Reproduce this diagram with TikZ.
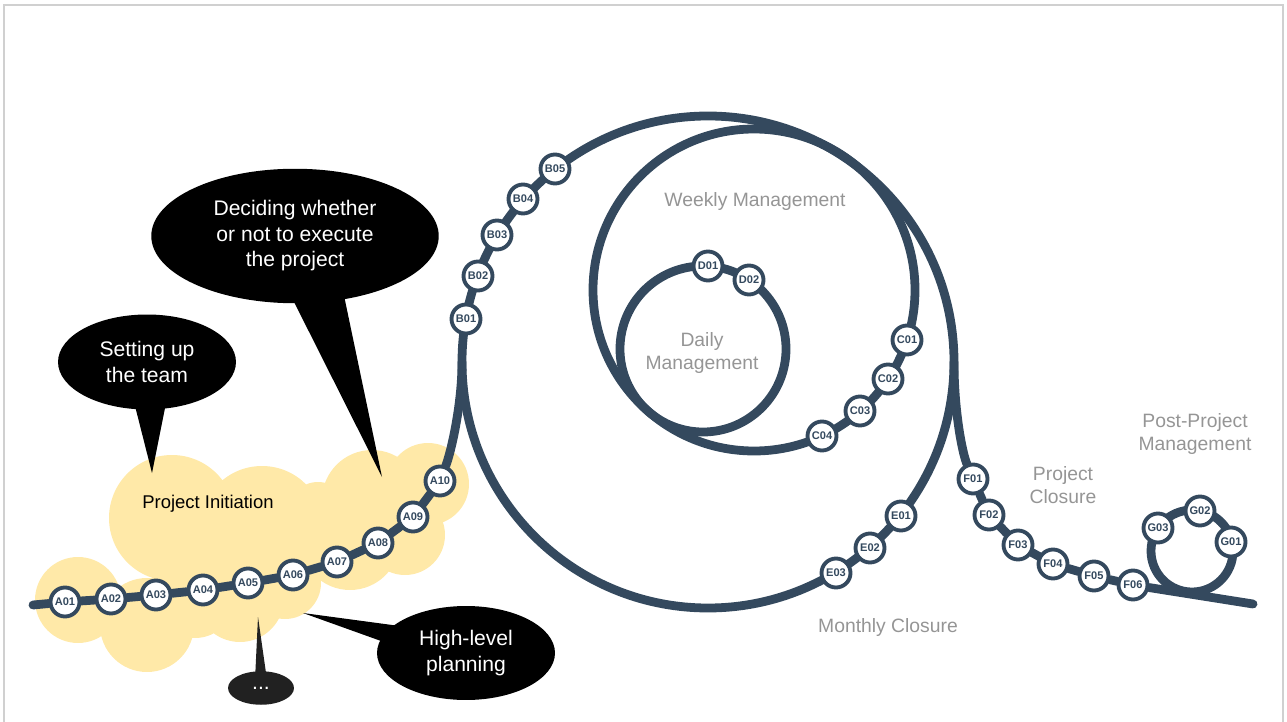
\documentclass[tikz,border=0pt]{standalone}
\usepackage{fontspec}
\setmainfont{Liberation Sans}
\usetikzlibrary{shapes.geometric}
\usepackage{xcolor}

\definecolor{track}{HTML}{34495E}
\definecolor{cloud}{HTML}{FFE9A8}
\definecolor{phase}{HTML}{959595}
\definecolor{frame}{HTML}{D0D0D0}

\pgfdeclarelayer{cloudlayer}
\pgfdeclarelayer{tracklayer}
\pgfsetlayers{cloudlayer,tracklayer,main}

\begin{document}
\begin{tikzpicture}[
x=0.02cm, y=-0.02cm,
stop/.style={circle, draw=track, line width=2.2pt, fill=white, inner sep=0pt,
  minimum size=0.58cm, text=track, font=\fontsize{6.3}{6.3}\selectfont\bfseries},
rail/.style={draw=track, line width=5pt, line cap=round},
phase/.style={text=phase, align=center, font=\fontsize{11}{13}\selectfont},
bubble/.style={ellipse, fill=black, text=white, inner sep=0pt, align=center,
  font=\fontsize{12}{14.5}\selectfont},
]
\useasboundingbox (0,0) rectangle (1287,722);
\draw[frame, line width=0.6pt] (4,722) -- (4,5) -- (1283,5) -- (1283,722);

%% project initiation
% cloud
\begin{pgfonlayer}{cloudlayer}
\fill[cloud] (78,600) circle[radius=43] (147,625) circle[radius=47]
  (172,518) circle[radius=63] (195,598) circle[radius=40]
  (262,528) circle[radius=62] (240,598) circle[radius=44]
  (285,583) circle[radius=36] (350,540) circle[radius=50]
  (372,500) circle[radius=50] (428,484) circle[radius=41]
  (405,535) circle[radius=40] (318,512) circle[radius=30];
\end{pgfonlayer}
\node[font=\fontsize{10.5}{12}\selectfont] (init) at (208,504) {Project Initiation};
% nodes
\coordinate (Astart) at (33,605);
\node[stop] (A01) at (65,602) {A01};
\node[stop] (A02) at (111,599) {A02};
\node[stop] (A03) at (156,595) {A03};
\node[stop] (A04) at (203,590) {A04};
\node[stop] (A05) at (248,583) {A05};
\node[stop] (A06) at (293,575) {A06};
\node[stop] (A07) at (337,562) {A07};
\node[stop] (A08) at (378,543) {A08};
\node[stop] (A09) at (413,517) {A09};
\node[stop] (A10) at (440,481) {A10};

%% monthly loop
\coordinate (M) at (708,362);
\coordinate (Ain) at (462,362);
\coordinate (Fout) at (954,362);
\node[stop] (B01) at (466,319) {B01};
\node[stop] (B02) at (478,276) {B02};
\node[stop] (B03) at (497,235) {B03};
\node[stop] (B04) at (523,199) {B04};
\node[stop] (B05) at (555,169) {B05};
\node[stop] (E01) at (901,516) {E01};
\node[stop] (E02) at (870,548) {E02};
\node[stop] (E03) at (836,573) {E03};
\node[phase] (monthly) at (888,628) {Monthly Closure};

%% weekly loop
\coordinate (W) at (754,290);
\node[stop] (C01) at (907,340) {C01};
\node[stop] (C02) at (888,379) {C02};
\node[stop] (C03) at (860,411) {C03};
\node[stop] (C04) at (822,436) {C04};
\node[phase] (weekly) at (755,202) {Weekly Management};

%% daily loop
\coordinate (D) at (703,349);
\node[stop] (D01) at (708,266) {D01};
\node[stop] (D02) at (749,280) {D02};
\node[phase] (daily) at (702,353) {Daily\\Management};

%% project closure
\node[stop] (F01) at (973,479) {F01};
\node[stop] (F02) at (989,515) {F02};
\node[stop] (F03) at (1018,545) {F03};
\node[stop] (F04) at (1053,564) {F04};
\node[stop] (F05) at (1094,576) {F05};
\node[stop] (F06) at (1133,585) {F06};
\coordinate (Fend) at (1253,604);
\node[phase] (closure) at (1063,485) {Project\\Closure};

%% post-project loop
\coordinate (G) at (1192,551);
\node[stop] (G01) at (1231,542) {G01};
\node[stop] (G02) at (1200,511) {G02};
\node[stop] (G03) at (1158,528) {G03};
\node[phase] (post) at (1195,434) {Post-Project\\Management};

% track
\begin{pgfonlayer}{tracklayer}
\draw[rail] (M) circle[radius=246];
\draw[rail] (W) circle[radius=161];
\draw[rail] (D) circle[radius=83];
\draw[rail] (G) circle[radius=41];
\draw[rail] (Astart) -- (A01) -- (A02) -- (A03) -- (A04) -- (A05) -- (A06)
  -- (A07) -- (A08) -- (A09) -- (A10);
\draw[rail] (A10) .. controls (451,452) and (462,405) .. (Ain);
\draw[rail] (Fout) .. controls (954,410) and (962,452) .. (F01);
\draw[rail] (F01) -- (F02) -- (F03) -- (F04) -- (F05) -- (F06) -- (Fend);
\end{pgfonlayer}

%% speech bubbles
\node[bubble, minimum width=5.75cm, minimum height=2.69cm] (decide) at (295,236)
  {Deciding whether\\or not to execute\\the project};
\coordinate (decideTip) at (382,477);
\fill (decideTip) -- (286,286) -- (342,286) -- cycle;

\node[bubble, minimum width=3.56cm, minimum height=1.9cm] (team) at (147,362)
  {Setting up\\the team};
\coordinate (teamTip) at (152,473);
\fill (teamTip) -- (133,398) -- (167,398) -- cycle;

\node[bubble, minimum width=3.56cm, minimum height=1.88cm] (plan) at (466,653)
  {High-level\\planning};
\coordinate (planTip) at (303,613);
\fill (planTip) -- (407,627) -- (395,646) -- cycle;

\node[bubble, fill=black!87, minimum width=1.32cm, minimum height=0.67cm] (more) at (261,688)
  {...};
\coordinate (moreTip) at (258,617);
\fill[black!87] (moreTip) -- (255,680) -- (267,680) -- cycle;
\end{tikzpicture}
\end{document}
